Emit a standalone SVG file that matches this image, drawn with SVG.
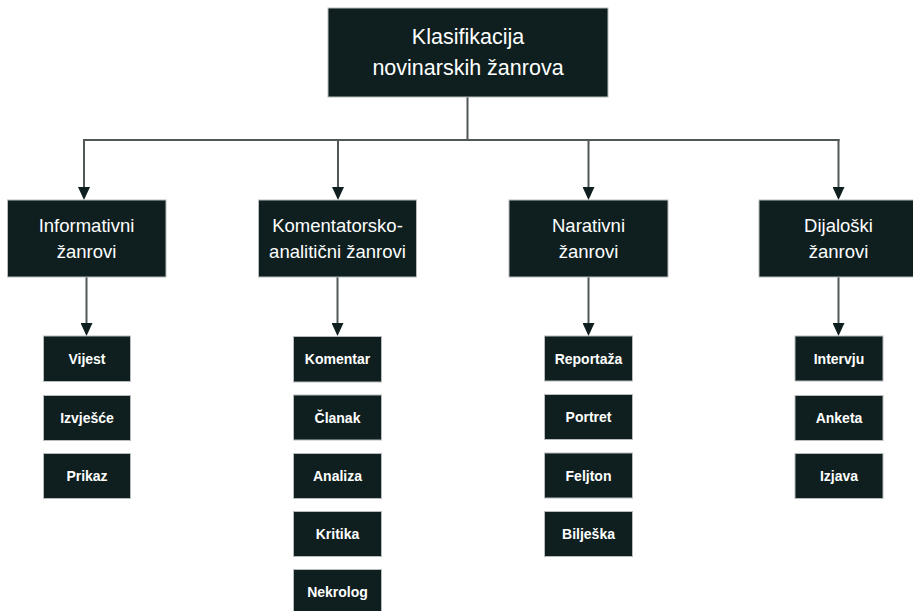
<svg xmlns="http://www.w3.org/2000/svg" width="913" height="611" viewBox="0 0 913 611">
<style>
.box{fill:#0f1f20;stroke:#b8bcbc;stroke-width:1}
.t1{font-family:"Liberation Sans",Arial,sans-serif;font-size:21.5px;fill:#ffffff;text-anchor:middle}
.t2{font-family:"Liberation Sans",Arial,sans-serif;font-size:18.5px;fill:#ffffff;text-anchor:middle}
.t3{font-family:"Liberation Sans",Arial,sans-serif;font-size:14px;font-weight:bold;fill:#ffffff;text-anchor:middle}
.ln{fill:none;stroke:#4f5757;stroke-width:2}
.ar{marker-end:url(#ah)}
</style>
<defs>
<marker id="ah" markerUnits="userSpaceOnUse" markerWidth="13" markerHeight="12" viewBox="0 0 13 12" refX="0" refY="6" orient="auto">
<path d="M0,0 L13,6 L0,12 Z" fill="#0f1f20"/>
</marker>
</defs>
<rect width="913" height="611" fill="#ffffff"/>
<g id="connectors">
<path class="ln" d="M467.5,97 V140"/>
<path class="ln" d="M83,140 H839.5"/>
<path class="ln ar" d="M84,139 V187"/>
<path class="ln ar" d="M338,140 V187"/>
<path class="ln ar" d="M588.5,140 V187"/>
<path class="ln ar" d="M838.5,139 V187"/>
<path class="ln ar" d="M86.5,277 V323"/>
<path class="ln ar" d="M337.5,277 V323"/>
<path class="ln ar" d="M588.5,277 V323"/>
<path class="ln ar" d="M838.5,277 V323"/>
</g>
<g id="root"><rect class="box" x="328" y="8" width="280" height="89"/><text class="t1" x="468" y="44">Klasifikacija</text><text class="t1" x="468" y="75">novinarskih žanrova</text></g>
<g id="informativni"><rect class="box" x="7.5" y="200" width="158.5" height="77"/><text class="t2" x="86.5" y="232">Informativni</text><text class="t2" x="86.5" y="258">žanrovi</text></g>
<g id="komentatorsko"><rect class="box" x="258.5" y="200" width="158" height="77"/><text class="t2" x="337.5" y="232">Komentatorsko-</text><text class="t2" x="337.5" y="258">analitični žanrovi</text></g>
<g id="narativni"><rect class="box" x="509" y="200" width="159" height="77"/><text class="t2" x="588.5" y="232">Narativni</text><text class="t2" x="588.5" y="258">žanrovi</text></g>
<g id="dijaloski"><rect class="box" x="759" y="200" width="159" height="77"/><text class="t2" x="838.5" y="232">Dijaloški</text><text class="t2" x="838.5" y="258">žanrovi</text></g>
<g id="vijest"><rect class="box" x="43.5" y="336" width="87" height="45.5"/><text class="t3" x="87" y="364">Vijest</text></g>
<g id="izvjesce"><rect class="box" x="43.5" y="395.5" width="87" height="45"/><text class="t3" x="87" y="423">Izvješće</text></g>
<g id="prikaz"><rect class="box" x="43.5" y="453.5" width="87" height="45"/><text class="t3" x="87" y="481">Prikaz</text></g>
<g id="komentar"><rect class="box" x="293.5" y="336.5" width="88" height="45.5"/><text class="t3" x="337.5" y="364">Komentar</text></g>
<g id="clanak"><rect class="box" x="293.5" y="395" width="88" height="45"/><text class="t3" x="337.5" y="423">Članak</text></g>
<g id="analiza"><rect class="box" x="293.5" y="453.5" width="88" height="45"/><text class="t3" x="337.5" y="481">Analiza</text></g>
<g id="kritika"><rect class="box" x="293.5" y="511.5" width="88" height="45"/><text class="t3" x="337.5" y="539">Kritika</text></g>
<g id="nekrolog"><rect class="box" x="293.5" y="569.5" width="88" height="45"/><text class="t3" x="337.5" y="597">Nekrolog</text></g>
<g id="reportaza"><rect class="box" x="544.5" y="336" width="88" height="45"/><text class="t3" x="588.5" y="364">Reportaža</text></g>
<g id="portret"><rect class="box" x="544.5" y="394.5" width="88" height="45"/><text class="t3" x="588.5" y="422">Portret</text></g>
<g id="feljton"><rect class="box" x="544.5" y="453" width="88" height="45"/><text class="t3" x="588.5" y="481">Feljton</text></g>
<g id="biljeska"><rect class="box" x="544.5" y="511.5" width="88" height="45"/><text class="t3" x="588.5" y="539">Bilješka</text></g>
<g id="intervju"><rect class="box" x="795" y="336" width="88" height="45"/><text class="t3" x="839" y="364">Intervju</text></g>
<g id="anketa"><rect class="box" x="795" y="395.5" width="88" height="45"/><text class="t3" x="839" y="423">Anketa</text></g>
<g id="izjava"><rect class="box" x="795" y="453.5" width="88" height="45"/><text class="t3" x="839" y="481">Izjava</text></g>
</svg>
